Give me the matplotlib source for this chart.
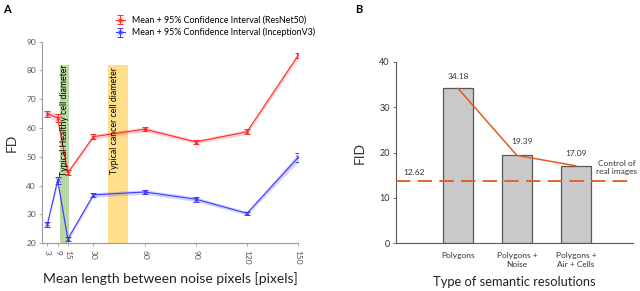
import numpy as np
import matplotlib.pyplot as plt

plt.rcParams['font.family'] = ['Lato', 'DejaVu Sans']

# panel A data
noise_len = [3, 9, 15, 30, 60, 90, 120, 150]
resnet_mean = [65.0, 63.5, 44.5, 57.0, 59.6, 55.2, 58.7, 85.2]
resnet_ci = [1.0, 1.5, 0.8, 0.8, 0.8, 0.6, 0.8, 1.0]
incep_mean = [26.6, 41.8, 21.5, 36.8, 37.8, 35.3, 30.4, 49.8]
incep_ci = [0.8, 1.2, 0.8, 0.8, 0.8, 0.8, 0.6, 1.5]
healthy_band = (10.5, 15.5)
cancer_band = (38.5, 50.0)
band_top = 82

# panel B data
categories = ['Polygons', 'Polygons +\nNoise', 'Polygons +\nAir + Cells']
fid_values = [34.18, 19.39, 17.09]
control_label = '12.62'
control_level = 13.7

grey = '#595959'
orange = '#e35b1d'

fig = plt.figure(figsize=(6.4, 2.91), dpi=100)

# ---------- A ----------
ax = fig.add_axes([0.066, 0.164, 0.400, 0.693])
ax.axvspan(healthy_band[0], healthy_band[1], ymax=(band_top - 20) / 70,
           color='#a9cf8f', alpha=0.8, lw=0, zorder=1)
ax.axvspan(cancer_band[0], cancer_band[1], ymax=(band_top - 20) / 70,
           color='#ffd86e', alpha=0.8, lw=0, zorder=1)
ax.text(13, 62.8, 'Typical Healthy cell diameter', rotation=90, ha='center',
        va='center', fontsize=6.3, zorder=5)
ax.text(42.5, 62.5, 'Typical cancer cell diameter', rotation=90, ha='center',
        va='center', fontsize=6.3, zorder=5)

x = np.array(noise_len)
for m, ci, col, name in [(resnet_mean, resnet_ci, '#ff2a2a', 'ResNet50'),
                         (incep_mean, incep_ci, '#3a3aff', 'InceptionV3')]:
    m = np.array(m)
    ci = np.array(ci)
    ax.fill_between(x, m - ci, m + ci, color=col, alpha=0.22, lw=0, zorder=2)
    ax.errorbar(x, m, yerr=ci, color=col, lw=0.8, marker='x', ms=3.5,
                mew=0.7, capsize=2, elinewidth=0.7, capthick=0.7, zorder=3,
                label='Mean + 95% Confidence Interval (' + name + ')')

ax.set_xlim(0, 150)
ax.set_ylim(20, 90)
ax.set_xticks(noise_len)
ax.set_xticklabels([str(v) for v in noise_len], rotation=270)
ax.set_yticks(range(20, 91, 10))
for s in ['top', 'right']:
    ax.spines[s].set_visible(False)
for s in ['left', 'bottom']:
    ax.spines[s].set_color('#9a9a9a')
    ax.spines[s].set_linewidth(0.8)
ax.tick_params(labelsize=6, colors='#9a9a9a', labelcolor='#555555',
               length=2.5, width=0.6, pad=2)
ax.set_ylabel('FD', fontsize=10, labelpad=6, color='#333333')
ax.set_xlabel('Mean length between noise pixels [pixels]', fontsize=10,
              labelpad=6, color='#222222')
ax.legend(loc='lower left', bbox_to_anchor=(0.27, 1.0), frameon=False,
          fontsize=6.4, handlelength=1.0, labelspacing=0.3, borderpad=0,
          handletextpad=0.8)
fig.text(0.005, 0.985, 'A', fontsize=8, fontweight='bold', va='top')

# ---------- B ----------
bx = fig.add_axes([0.619, 0.164, 0.370, 0.623])
pos = np.arange(1, len(categories) + 1)
bx.bar(pos, fid_values, width=0.5, color='#c9c9c9', edgecolor=grey, lw=0.9,
       zorder=2)
bx.plot(pos, fid_values, color=orange, lw=1.1, zorder=3)
bx.axhline(control_level, color=orange, lw=1.3, ls=(0, (8, 4)), zorder=4)
offsets = [(0, 2.7), (0.08, 3.0), (0, 2.7)]
for p, v, (dx, dy) in zip(pos, fid_values, offsets):
    bx.text(p + dx, v + dy, f'{v:.2f}', ha='center', va='center',
            fontsize=6, color='#333333')
bx.text(0.25, control_level + 2.0, control_label, ha='center', va='center',
        fontsize=6, color='#333333')
bx.text(3.7, control_level + 3.0, 'Control of\nreal images', ha='center',
        va='center', fontsize=6, color='#333333', linespacing=1.3,
        clip_on=False)

bx.set_xlim(-0.05, 3.97)
bx.set_ylim(0, 40)
bx.set_xticks(pos)
bx.set_xticklabels(categories, fontsize=6, color='#333333', linespacing=1.4)
bx.set_yticks(range(0, 41, 10))
for s in ['top', 'right']:
    bx.spines[s].set_visible(False)
for s in ['left', 'bottom']:
    bx.spines[s].set_color(grey)
    bx.spines[s].set_linewidth(0.8)
bx.tick_params(axis='x', length=0, pad=6)
bx.tick_params(axis='y', labelsize=6.5, length=2.5, width=0.6,
               colors=grey, labelcolor='#333333', pad=2)
bx.set_ylabel('FID', fontsize=10, labelpad=10, color='#333333')
bx.set_xlabel('Type of semantic resolutions', fontsize=9.3, labelpad=6,
              color='#222222')
fig.text(0.555, 0.985, 'B', fontsize=8, fontweight='bold', va='top')

fig.savefig('out.png', dpi=100)
